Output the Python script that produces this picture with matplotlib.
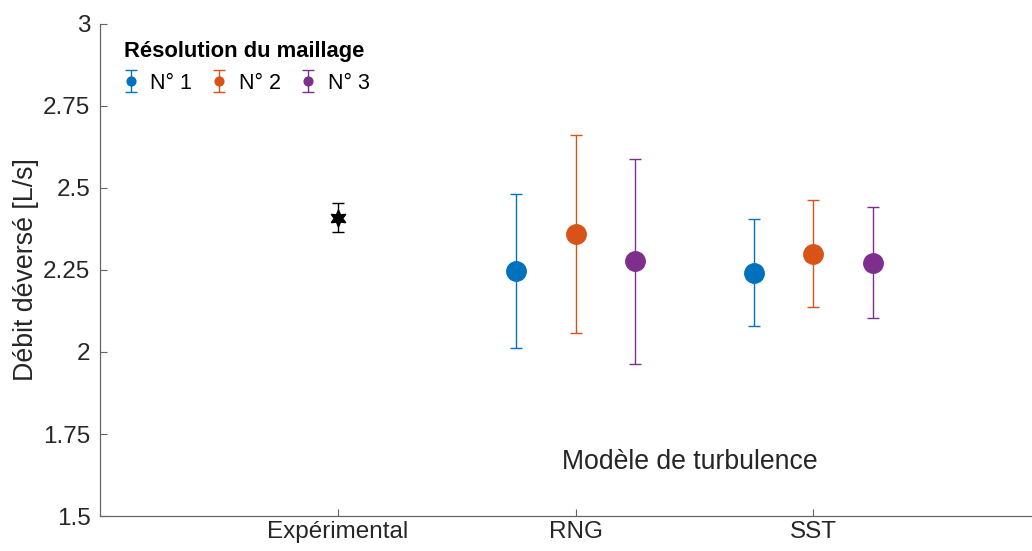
import numpy as np
import matplotlib
matplotlib.use("Agg")
import matplotlib.pyplot as plt

plt.rcParams['font.family'] = ['Liberation Sans', 'DejaVu Sans']

# data
categories = ['Expérimental', 'RNG', 'SST']
exp_value = 2.41
exp_err = 0.044

models = ['RNG', 'SST']
mesh_labels = ['N° 1', 'N° 2', 'N° 3']
mesh_colors = ['#0072BD', '#D95319', '#7E2F8E']
# mean and half error per mesh, for RNG then SST
mesh_means = [[2.247, 2.241], [2.360, 2.300], [2.276, 2.272]]
mesh_errs = [[0.236, 0.163], [0.302, 0.163], [0.313, 0.169]]
offsets = [-0.25, 0.0, 0.25]

fig = plt.figure(figsize=(10.32, 5.51), dpi=100)
ax = fig.add_axes([0.097, 0.0635, 0.903, 0.893])

x_cat = np.arange(1, len(categories) + 1)

# experimental point
ax.errorbar([x_cat[0]], [exp_value], yerr=[exp_err], fmt='none',
            ecolor='black', elinewidth=1.0, capsize=4, capthick=1.0)
ax.plot([x_cat[0]], [exp_value], linestyle='none', marker=(6, 1, 0),
        markersize=12, color='black')

# CFD results
x_mod = x_cat[1:]
for i in range(3):
    ax.errorbar(x_mod + offsets[i], mesh_means[i], yerr=mesh_errs[i],
                fmt='o', color=mesh_colors[i], markersize=14,
                elinewidth=1.0, capsize=4, capthick=1.0,
                label=mesh_labels[i])

ax.set_xlim(0, 3.92)
ax.set_ylim(1.5, 3)
ax.set_xticks(x_cat)
ax.set_xticklabels(categories)
ax.set_yticks([1.5, 1.75, 2, 2.25, 2.5, 2.75, 3])
ax.set_yticklabels(['1.5', '1.75', '2', '2.25', '2.5', '2.75', '3'])
ax.set_ylabel('Débit déversé [L/s]', fontsize=19.3, color='#262626', labelpad=3)
ax.text(2.48, 1.665, 'Modèle de turbulence', ha='center', va='center',
        fontsize=19.2, color='#262626')

for s in ['top', 'right']:
    ax.spines[s].set_visible(False)
for s in ['left', 'bottom']:
    ax.spines[s].set_color('#666666')
    ax.spines[s].set_linewidth(0.9)
ax.tick_params(direction='in', length=5, width=0.8, colors='#666666',
               labelcolor='#262626', labelsize=17.5)
ax.tick_params(axis='y', pad=7)

leg = ax.legend(loc='upper left', bbox_to_anchor=(0.005, 1.005), ncol=3,
                frameon=False, markerscale=0.45, handlelength=0.6,
                handletextpad=0.6, columnspacing=0.98, fontsize=15.5,
                title='Résolution du maillage',
                title_fontproperties={'weight': 'bold', 'size': 15.8},
                alignment='left')

fig.savefig('out.png', dpi=100)
